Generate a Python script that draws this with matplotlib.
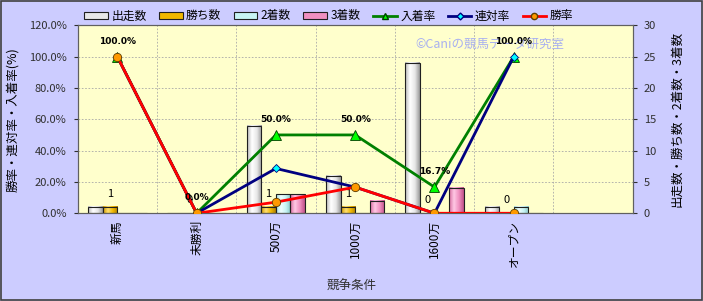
import numpy as np
import matplotlib.pyplot as plt
from matplotlib.colors import LinearSegmentedColormap
from matplotlib.patches import Rectangle, Patch
from matplotlib.lines import Line2D
from matplotlib.ticker import FuncFormatter

plt.rcParams['font.family'] = ['Noto Sans CJK JP', 'DejaVu Sans']

# ---- data -------------------------------------------------------------------
categories = ['新馬', '未勝利', '500万', '1000万', '1600万', 'オープン']
starts = [1, 0, 14, 6, 24, 1]
wins = [1, 0, 1, 1, 0, 0]
seconds = [0, 0, 3, 0, 0, 1]
thirds = [0, 0, 3, 2, 4, 0]
place_rate = [100.0, 0.0, 50.0, 50.0, 16.7, 100.0]      # 入着率
quinella_rate = [100.0, 0.0, 28.6, 16.7, 0.0, 100.0]    # 連対率
win_rate = [100.0, 0.0, 7.1, 16.7, 0.0, 0.0]            # 勝率
n_slots = 7

BG = '#ccccff'
PLOT_BG = '#ffffcc'

bar_series = [
    ('出走数', starts, ['#b8b8b8', '#ffffff', '#e8e8e8', '#9a9a9a']),
    ('勝ち数', wins, ['#d09a00', '#ffe070', '#f0b800', '#b08000']),
    ('2着数', seconds, ['#a8e0e0', '#f0ffff', '#c8f4f4', '#88c8c8']),
    ('3着数', thirds, ['#d86aa0', '#ffc8e4', '#f090c0', '#c05088']),
]

fig = plt.figure(figsize=(7.03, 3.01), dpi=100, facecolor=BG)
ax = fig.add_axes([0.1105, 0.2915, 0.7895, 0.6245])
ax.set_facecolor(PLOT_BG)
ax_l = ax.twinx()

x = np.arange(len(categories))
w = 0.184
grad = np.linspace(0, 1, 64).reshape(1, -1)
for k, (name, vals, cols) in enumerate(bar_series):
    xs = x + (k - 1.5) * w
    bars = ax.bar(xs, vals, w, facecolor='none', edgecolor='#202020',
                  lw=0.8, zorder=3)
    cmap = LinearSegmentedColormap.from_list(name, cols)
    for b in bars:
        if b.get_height() <= 0:
            continue
        ax.imshow(grad, cmap=cmap, aspect='auto', zorder=2,
                  extent=[b.get_x(), b.get_x() + b.get_width(), 0, b.get_height()])
    if name == '勝ち数':
        for xi, v in zip(xs, vals):
            ax.text(xi, v + 1.3, f"{v}", ha='center', va='bottom',
                    fontsize=8, zorder=6)

ax.set_xlim(-0.5, n_slots - 0.5)
ax.set_ylim(0, 30)
ax.set_yticks(range(0, 31, 5))
ax.yaxis.tick_right()
ax.yaxis.set_label_position('right')
ax.set_ylabel('出走数・勝ち数・2着数・3着数', fontsize=9, labelpad=10)

for xv in np.arange(0.5, n_slots - 0.5, 1):
    ax.axvline(xv, color='#a8a8a8', lw=0.6, ls=(0, (2, 2)), zorder=1)
for yv in range(5, 30, 5):
    ax.axhline(yv, color='#a8a8a8', lw=0.6, ls=(0, (2, 2)), zorder=1)

# ---- rate lines --------------------------------------------------------------
ax_l.plot(x, place_rate, color='#008000', lw=2, marker='^', ms=7,
          mfc='#00ff00', mec='#004000', mew=0.6, zorder=4)
ax_l.plot(x, quinella_rate, color='#000080', lw=2, marker='D', ms=4.5,
          mfc='#00ffff', mec='#000080', mew=0.6, zorder=5)
ax_l.plot(x, win_rate, color='#ff0000', lw=2, marker='o', ms=6,
          mfc='#ff9900', mec='#604000', mew=0.6, zorder=6)
for xi, v in zip(x, place_rate):
    ax_l.annotate(f"{v:.1f}%", (xi, v), xytext=(0, 8), textcoords='offset points',
                  ha='center', va='bottom', fontsize=6.5, fontweight='bold',
                  family='DejaVu Sans', zorder=7)

ax_l.set_ylim(0, 120)
ax_l.set_yticks(range(0, 121, 20))
ax_l.yaxis.set_major_formatter(FuncFormatter(lambda v, p: f"{v:.1f}%"))
ax_l.yaxis.tick_left()
ax_l.yaxis.set_label_position('left')
ax_l.set_ylabel('勝率・連対率・入着率(%)', fontsize=9, labelpad=7)

ax.text(0.608, 0.898, '©Caniの競馬データ研究室', transform=ax.transAxes,
        fontsize=9, color='#a8b0f0', va='center', zorder=1.5)

ax.set_xticks(x)
ax.set_xticklabels(categories, rotation=90, fontsize=8.5)
ax.tick_params(axis='x', length=0, pad=5)
ax.set_xlabel('競争条件', fontsize=9, color='#303030')
ax.xaxis.set_label_coords(0.494, -0.355)
for a in (ax, ax_l):
    a.tick_params(axis='y', labelsize=8, length=3, pad=5, colors='#303030')
    for s in a.spines.values():
        s.set_color('#606060')
        s.set_linewidth(0.8)

handles = [Patch(facecolor=c[2], edgecolor='#202020', lw=0.8, label=n)
           for n, _, c in bar_series]
handles += [
    Line2D([], [], color='#008000', lw=2, marker='^', ms=5, mfc='#00ff00',
           mec='#004000', label='入着率'),
    Line2D([], [], color='#000080', lw=2, marker='D', ms=3.5, mfc='#00ffff',
           mec='#000080', label='連対率'),
    Line2D([], [], color='#ff0000', lw=2, marker='o', ms=4.5, mfc='#ff9900',
           mec='#604000', label='勝率'),
]
fig.legend(handles=handles, ncol=7, loc='center left', bbox_to_anchor=(0.108, 0.947),
           frameon=False, fontsize=8.5, handlelength=2.0, handleheight=0.5,
           handletextpad=0.3, columnspacing=1.05, borderpad=0.2)

fig.add_artist(Rectangle((0.001, 0.002), 0.997, 0.995, transform=fig.transFigure,
                         fill=False, ec='#404040', lw=1.2))
fig.savefig('out.png', dpi=100, facecolor=BG)
